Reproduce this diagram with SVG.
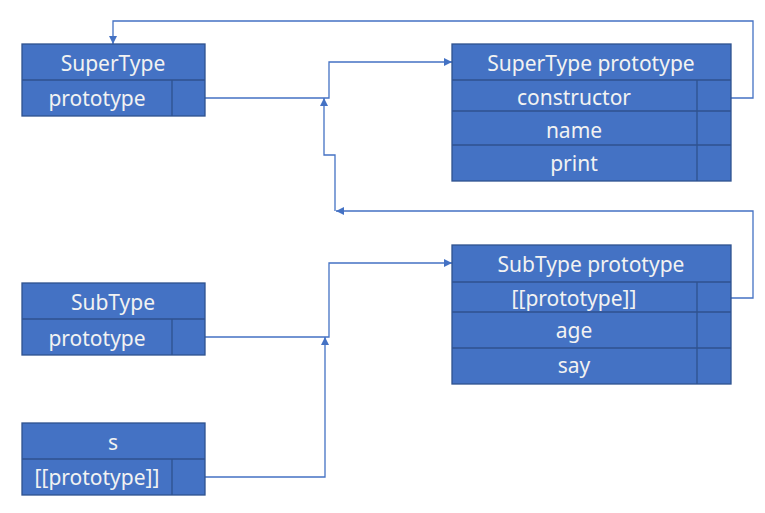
<svg xmlns="http://www.w3.org/2000/svg" width="765" height="513" viewBox="0 0 765 513">
<defs>
<style>
.box{fill:#4472C4;stroke:#2F528F;stroke-width:1.3}
.ln{fill:none;stroke:#2F528F;stroke-width:1.3}
.t{font-family:"Noto Sans","DejaVu Sans",sans-serif;font-size:21px;fill:#F2F2F2;text-anchor:middle}
.c{fill:none;stroke:#4472C4;stroke-width:1.3}
</style>
<marker id="ah" viewBox="0 0 10 10" refX="10" refY="5" markerWidth="9" markerHeight="8" markerUnits="userSpaceOnUse" orient="auto">
<path d="M0,0 L10,5 L0,10 Z" fill="#4472C4"/>
</marker>
</defs>
<rect width="765" height="513" fill="#FFFFFF"/>
<g id="connectors">
<path class="c" d="M731,98 H753 V21 H113 V44" marker-end="url(#ah)"/>
<path class="c" d="M205,98 H329 V62 H452" marker-end="url(#ah)"/>
<path class="c" d="M731,298 H753 V211 H336" marker-end="url(#ah)"/>
<path class="c" d="M335,211 V155 H324 V98" marker-end="url(#ah)"/>
<path class="c" d="M205,337 H329 V263 H452" marker-end="url(#ah)"/>
<path class="c" d="M205,477 H325 V337" marker-end="url(#ah)"/>
</g>
<g id="supertype">
<rect class="box" x="22" y="44" width="183" height="72"/>
<path class="ln" d="M22,80 H205 M172,80 V116"/>
<text class="t" x="113" y="71">SuperType</text>
<text class="t" x="97" y="106">prototype</text>
</g>
<g id="supertype-prototype">
<rect class="box" x="452" y="44" width="279" height="137"/>
<path class="ln" d="M452,80 H731 M452,111 H731 M452,145 H731 M697,80 V181"/>
<text class="t" x="591" y="71">SuperType prototype</text>
<text class="t" x="574" y="105">constructor</text>
<text class="t" x="574" y="138">name</text>
<text class="t" x="574" y="171">print</text>
</g>
<g id="subtype">
<rect class="box" x="22" y="283" width="183" height="72"/>
<path class="ln" d="M22,319 H205 M172,319 V355"/>
<text class="t" x="113" y="310">SubType</text>
<text class="t" x="97" y="346">prototype</text>
</g>
<g id="subtype-prototype">
<rect class="box" x="452" y="245" width="279" height="139"/>
<path class="ln" d="M452,282 H731 M452,312 H731 M452,348 H731 M697,282 V384"/>
<text class="t" x="591" y="272">SubType prototype</text>
<text class="t" x="574" y="306">[[prototype]]</text>
<text class="t" x="574" y="338">age</text>
<text class="t" x="574" y="373">say</text>
</g>
<g id="s">
<rect class="box" x="22" y="423" width="183" height="72"/>
<path class="ln" d="M22,459 H205 M172,459 V495"/>
<text class="t" x="113" y="450">s</text>
<text class="t" x="97" y="485">[[prototype]]</text>
</g>
</svg>
